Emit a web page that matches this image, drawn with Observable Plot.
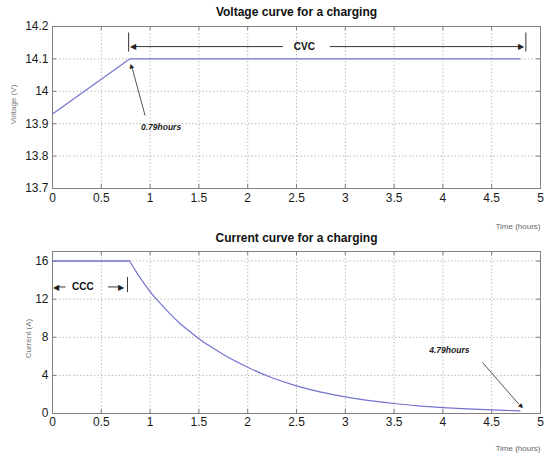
<!DOCTYPE html>
<html>
<head>
<meta charset="utf-8">
<script src="https://cdn.jsdelivr.net/npm/d3@7"></script>
<script src="https://cdn.jsdelivr.net/npm/@observablehq/plot@0.6"></script>
<style>
  body { margin: 0; background: #fff; }
  #chart svg { display: block; }
</style>
</head>
<body>
<div id="chart"></div>
<script>
// Battery charging profile: constant current (CCC) until 0.79 h,
// then constant voltage (CVC) until 4.79 h.

const timeTicks = [0, 0.5, 1, 1.5, 2, 2.5, 3, 3.5, 4, 4.5, 5];
const voltageTicks = [13.7, 13.8, 13.9, 14, 14.1, 14.2];
const currentTicks = [0, 4, 8, 12, 16];

// Voltage (V) against time (hours)
const voltageTime = [0, 0.79, 4.79];
const voltageValues = [13.93, 14.1, 14.1];

// Current (A) against time (hours)
const currentTime = [0, 0.79, 0.85, 0.9, 1.0, 1.1, 1.2, 1.3, 1.4, 1.5, 1.6, 1.75, 2.0, 2.25, 2.5, 2.75, 3.0, 3.25, 3.5, 3.75, 4.0, 4.25, 4.5, 4.79];
const currentValues = [16, 16, 15.0, 14.2, 12.8, 11.6, 10.5, 9.5, 8.65, 7.85, 7.15, 6.2, 4.85, 3.75, 2.9, 2.25, 1.75, 1.35, 1.05, 0.8, 0.62, 0.48, 0.37, 0.28];

const switchTime = 0.79;
const switchLabel = "0.79hours";
const endLabel = "4.79hours";

const voltage = voltageTime.map((t, i) => ({t, v: voltageValues[i]}));
const current = currentTime.map((t, i) => ({t, a: currentValues[i]}));
const currentFlat = current.filter(d => d.t <= switchTime);
const currentDecay = current.filter(d => d.t >= switchTime);

const FONT = "'Liberation Sans', Arial, sans-serif";
const LINE = "#7474cf";
const fmt = d => `${d}`;
const ML = 52, MR = 4;

function frameMarks(yTicks, height, mTop, mBottom) {
  const h = height - mTop - mBottom;
  const w = 544 - ML - MR;
  const grid = {stroke: "#bcbcbc", strokeOpacity: 1, strokeDasharray: "1.5,2"};
  const tick = {stroke: "#808080", strokeOpacity: 1};
  return [
    Plot.gridX(timeTicks, grid),
    Plot.gridY(yTicks, grid),
    Plot.tickX(timeTicks, {x: d => d, insetTop: h - 4, ...tick}),
    Plot.tickX(timeTicks, {x: d => d, insetBottom: h - 4, ...tick}),
    Plot.tickY(yTicks, {y: d => d, insetRight: w - 4, ...tick}),
    Plot.tickY(yTicks, {y: d => d, insetLeft: w - 4, ...tick}),
    Plot.frame({stroke: "#808080"}),
    Plot.axisY(yTicks, {tickSize: 0, tickPadding: 4, tickFormat: fmt, label: null,
      fontSize: 12, fill: "#1a1a1a"})
  ];
}

function heading(text, dy) {
  return Plot.text([text], {frameAnchor: "top", dy, fontSize: 12, fontWeight: "bold",
    fill: "#111", lineAnchor: "middle"});
}

function timeLabel(dy) {
  return Plot.text(["Time (hours)"], {frameAnchor: "bottom-right", dx: 0, dy,
    textAnchor: "end", lineAnchor: "middle", fontSize: 8, fill: "#666"});
}

// ---------- Voltage panel ----------
const H1 = 232, T1 = 26, B1 = 44;
const voltagePlot = Plot.plot({
  width: 544, height: H1,
  marginTop: T1, marginBottom: B1, marginLeft: ML, marginRight: MR,
  style: {fontFamily: FONT, background: "#fff"},
  x: {domain: [0, 5]},
  y: {domain: [13.7, 14.2]},
  marks: [
    ...frameMarks(voltageTicks, H1, T1, B1),
    Plot.axisX(timeTicks, {tickSize: 0, tickPadding: 5, tickFormat: fmt, label: null,
      fontSize: 12, fill: "#1a1a1a"}),
    Plot.line(voltage, {x: "t", y: "v", stroke: LINE, strokeWidth: 1.2}),
    heading("Voltage curve for a charging", -14),
    Plot.text(["Voltage (V)"], {frameAnchor: "left", dx: -39, dy: -3, rotate: -90,
      fontSize: 8, fill: "#777", textAnchor: "middle", lineAnchor: "middle"}),
    timeLabel(38),
    // CVC bracket
    Plot.ruleX([0.78, 4.85], {x: d => d, y1: 14.121, y2: 14.18, stroke: "#333", strokeWidth: 1}),
    Plot.link([{x1: 2.36, x2: 0.83}, {x1: 2.84, x2: 4.79}],
      {x1: "x1", x2: "x2", y1: 14.138, y2: 14.138, stroke: "#333", strokeWidth: 1}),
    Plot.text(["◀"], {x: 0.795, y: 14.138, textAnchor: "start", lineAnchor: "middle", fontSize: 8, fill: "#222"}),
    Plot.text(["▶"], {x: 4.835, y: 14.138, textAnchor: "end", lineAnchor: "middle", fontSize: 8, fill: "#222"}),
    Plot.text(["CVC"], {x: 2.58, y: 14.138, fontSize: 10, fontWeight: "bold", fill: "#111", lineAnchor: "middle"}),
    // switch-over marker
    Plot.link([0], {x1: 0.949, y1: 13.925, x2: 0.817, y2: 14.071, stroke: "#555", strokeWidth: 1}),
    Plot.text(["▲"], {x: 0.805, y: 14.078, rotate: -15, fontSize: 8, fill: "#222", lineAnchor: "middle"}),
    Plot.text([switchLabel], {x: 1.112, y: 13.888, fontSize: 8.5, fontWeight: "bold",
      fontStyle: "italic", fill: "#222", lineAnchor: "middle"})
  ]
});

// ---------- Current panel ----------
const H2 = 221, T2 = 19, B2 = 40;
const currentPlot = Plot.plot({
  width: 544, height: H2,
  marginTop: T2, marginBottom: B2, marginLeft: ML, marginRight: MR,
  style: {fontFamily: FONT, background: "#fff"},
  x: {domain: [0, 5]},
  y: {domain: [0, 17]},
  marks: [
    ...frameMarks(currentTicks, H2, T2, B2),
    Plot.axisX(timeTicks, {tickSize: 0, tickPadding: 4, tickFormat: fmt, label: null,
      fontSize: 12, fill: "#1a1a1a"}),
    Plot.line(currentFlat, {x: "t", y: "a", stroke: LINE, strokeWidth: 1.6}),
    Plot.line(currentDecay, {x: "t", y: "a", stroke: LINE, strokeWidth: 1.2, curve: "monotone-x"}),
    heading("Current curve for a charging", -13),
    Plot.text(["Current (A)"], {frameAnchor: "left", dx: -24, dy: 6, rotate: -90,
      fontSize: 8, fill: "#777", textAnchor: "middle", lineAnchor: "middle"}),
    timeLabel(35),
    // CCC bracket
    Plot.ruleX([0.768], {x: d => d, y1: 12.69, y2: 14.26, stroke: "#333", strokeWidth: 1}),
    Plot.link([{x1: 0.133, x2: 0.04}, {x1: 0.57, x2: 0.69}],
      {x1: "x1", x2: "x2", y1: 13.28, y2: 13.28, stroke: "#333", strokeWidth: 1}),
    Plot.text(["◀"], {x: 0.0, y: 13.28, textAnchor: "start", lineAnchor: "middle", fontSize: 8, fill: "#222"}),
    Plot.text(["▶"], {x: 0.73, y: 13.28, textAnchor: "end", lineAnchor: "middle", fontSize: 8, fill: "#222"}),
    Plot.text(["CCC"], {x: 0.311, y: 13.28, fontSize: 10, fontWeight: "bold", fill: "#111", lineAnchor: "middle"}),
    // end-of-charge marker
    Plot.link([0], {x1: 4.405, y1: 5.36, x2: 4.78, y2: 0.96, stroke: "#555", strokeWidth: 1}),
    Plot.text(["▼"], {x: 4.80, y: 0.76, rotate: -41, fontSize: 8, fill: "#222", lineAnchor: "middle"}),
    Plot.text([endLabel], {x: 4.066, y: 6.59, fontSize: 8.5, fontWeight: "bold",
      fontStyle: "italic", fill: "#222", lineAnchor: "middle"})
  ]
});

document.getElementById("chart").append(voltagePlot, currentPlot);
</script>
</body>
</html>
